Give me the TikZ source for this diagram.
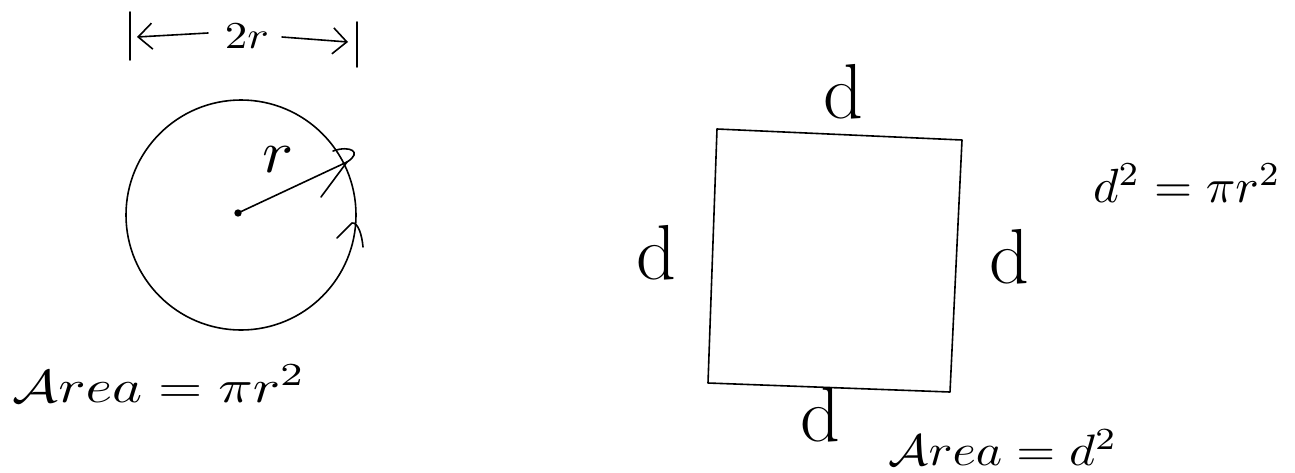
\documentclass[tikz,border=0pt]{standalone}
\usepackage{graphicx}
\usetikzlibrary{arrows.meta}
\newcommand{\mysc}[3]{\scalebox{#1}[#2]{#3}}
\begin{document}
\begin{tikzpicture}[x=1pt,y=-1pt,
  line width=1.6pt, line cap=round, line join=round,
  barb/.style={-{Straight Barb[length=14pt,width=26pt,line width=1.6pt]}},
  lbl/.style={inner sep=0pt},
  big/.style={lbl,font=\fontsize{78}{82}\selectfont}]
\useasboundingbox (0,0) rectangle (1295,472);
\fill[white] (0,0) rectangle (1295,472);

% --- top dimension |<- 2r ->|
\coordinate (b1t) at (130,12); \coordinate (b1b) at (130,60);
\coordinate (b2t) at (357,22); \coordinate (b2b) at (357,67);
\draw (b1t) -- (b1b);
\draw (b2t) -- (b2b);
\node[lbl] (tw) at (247,36) {\mysc{4.5}{3.8}{$2r$}};
\coordinate (la) at (208,33); \coordinate (lb) at (137,37);
\coordinate (ra) at (282,37); \coordinate (rb) at (348,42);
\draw[barb] (la) -- (lb);
\draw[barb] (ra) -- (rb);

% --- circle
\coordinate (o) at (241,215);
\draw (o) circle[radius=115pt];
\node[circle,fill,inner sep=2.6pt] (c) at (238,213) {};
\coordinate (tip) at (347,162);
\draw (c.center) -- (tip);
\draw (333,151) .. controls (350,145) and (363,152) .. (tip);
\draw (tip) -- (321,197);
\draw (337,238) -- (352,223) .. controls (358,222) and (362,235) .. (363,247);
\node[lbl] (rl) at (278,160) {\mysc{6.5}{6}{$r$}};

\node[lbl,anchor=base west] (a1) at (12,402) {\mysc{5.7}{4.6}{$\mathcal{A}rea = \pi r^2$}};

% --- square
\coordinate (s1) at (717,129);
\coordinate (s2) at (962,140);
\coordinate (s3) at (950,392);
\coordinate (s4) at (708,383);
\draw (s1) -- (s2) -- (s3) -- (s4) -- cycle;
\node[big] (dt) at (843,92) {d};
\node[big] (dl) at (656,253) {d};
\node[big] (dr) at (1009,257) {d};
\node[big] (db) at (820,415) {d};

\node[lbl] (eq) at (1187,183) {\mysc{4.9}{4.8}{$d^2 = \pi r^2$}};
\node[lbl,anchor=base west] (a2) at (888,465) {\mysc{5}{4.4}{$\mathcal{A}rea = d^2$}};
\end{tikzpicture}
\end{document}
